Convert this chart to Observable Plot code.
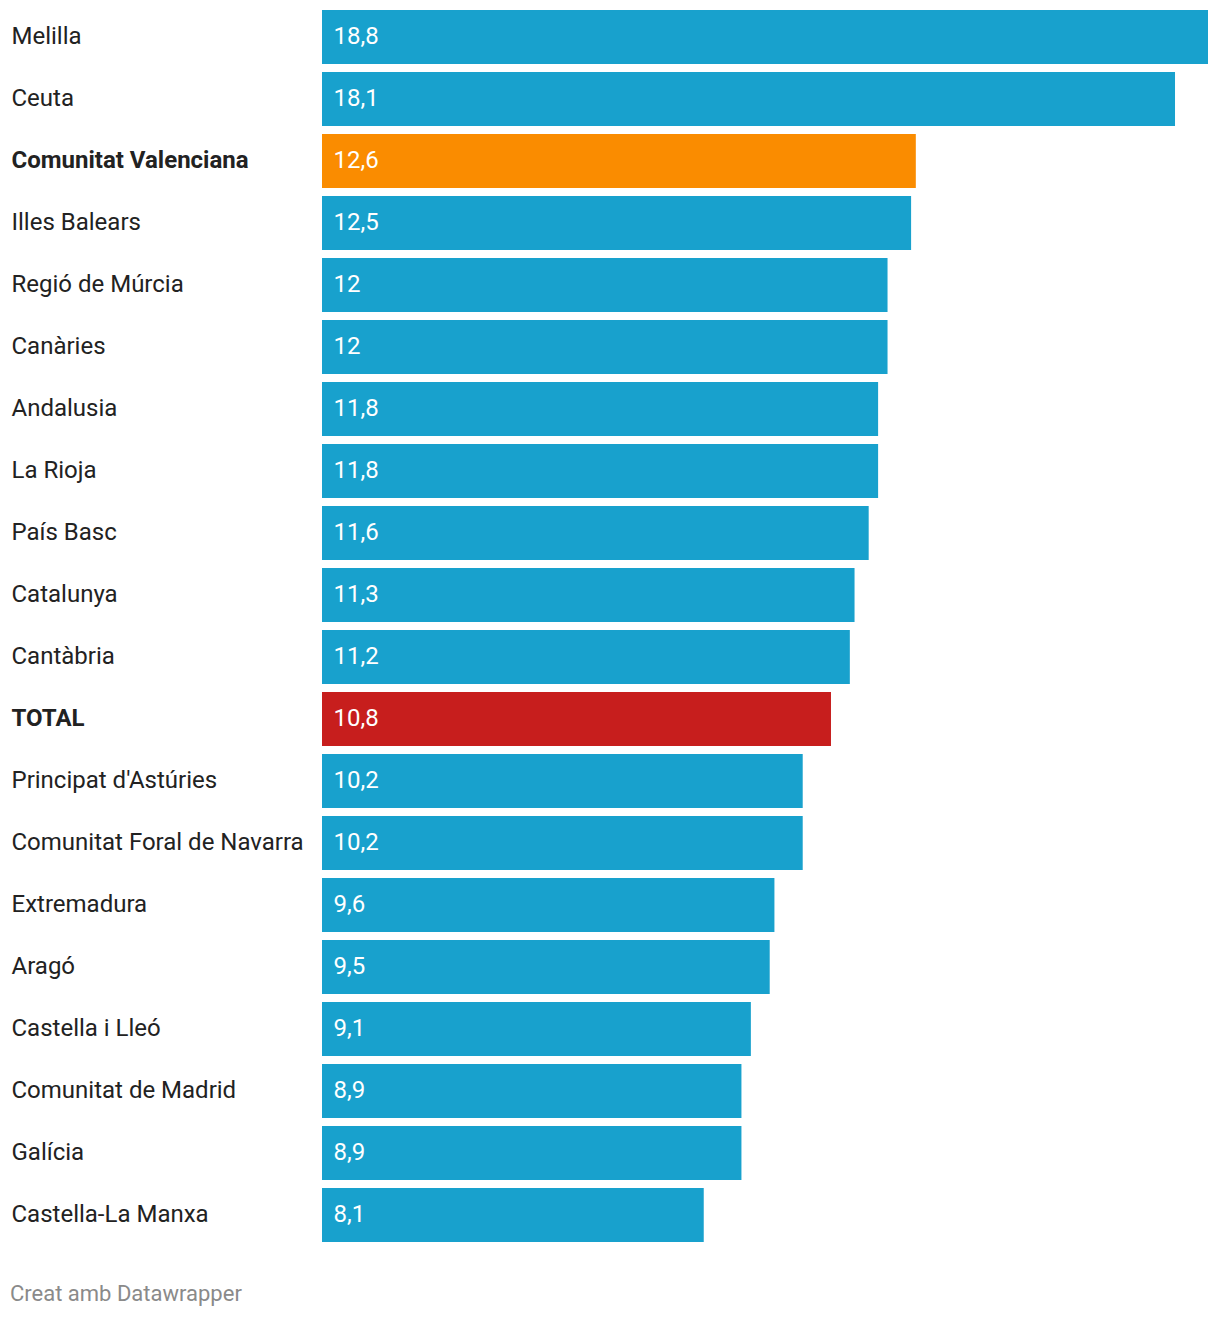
<!DOCTYPE html>
<html>
<head>
<meta charset="utf-8">
<script src="https://cdn.jsdelivr.net/npm/d3@7"></script>
<script src="https://cdn.jsdelivr.net/npm/@observablehq/plot@0.6"></script>
<style>
  html, body { margin: 0; padding: 0; background: #fff; }
  body { width: 1220px; font-family: Roboto, sans-serif; }
  #chart svg { display: block; }
  #footer { font-family: Roboto, sans-serif; font-size: 22px; line-height: 26px; color: #8a8a8a; margin: 31px 0 0 10px; }
</style>
</head>
<body>
<div id="chart"></div>
<div id="footer">Creat amb Datawrapper</div>
<script>
const regions = ["Melilla","Ceuta","Comunitat Valenciana","Illes Balears","Regió de Múrcia","Canàries","Andalusia","La Rioja","País Basc","Catalunya","Cantàbria","TOTAL","Principat d'Astúries","Comunitat Foral de Navarra","Extremadura","Aragó","Castella i Lleó","Comunitat de Madrid","Galícia","Castella-La Manxa"];
const values = [18.8,18.1,12.6,12.5,12,12,11.8,11.8,11.6,11.3,11.2,10.8,10.2,10.2,9.6,9.5,9.1,8.9,8.9,8.1];
const highlighted = ["Comunitat Valenciana","TOTAL"];
const colorKeys = ["base","Comunitat Valenciana","TOTAL"];
const colorValues = ["#18a1cd","#fa8c00","#c71e1d"];

const data = regions.map((r, i) => ({
  region: r,
  value: values[i],
  key: highlighted.includes(r) ? r : "base",
  bold: highlighted.includes(r)
}));
const fmt = v => String(v).replace(".", ",");

const chart = Plot.plot({
  width: 1220,
  height: 1250,
  marginLeft: 322,
  marginRight: 12,
  marginTop: 6,
  marginBottom: 4,
  style: { fontFamily: "Roboto, sans-serif", fontSize: "24px", background: "#fff" },
  x: { domain: [0, 18.8], axis: null },
  y: { domain: regions, axis: null, paddingInner: 8/62, paddingOuter: 4/62 },
  color: { domain: colorKeys, range: colorValues },
  marks: [
    Plot.barX(data, { y: "region", x: "value", fill: "key" }),
    Plot.text(data, { y: "region", x: 0, text: d => fmt(d.value), textAnchor: "start", dx: 11, dy: -1, fill: "#fff", fontSize: 24 }),
    Plot.text(data.filter(d => !d.bold), { y: "region", text: "region", frameAnchor: "left", dx: -311, dy: -1, textAnchor: "start", fill: "#222", fontSize: 24 }),
    Plot.text(data.filter(d => d.bold), { y: "region", text: "region", frameAnchor: "left", dx: -311, dy: -1, textAnchor: "start", fill: "#222", fontSize: 24, fontWeight: "bold" })
  ]
});
document.getElementById("chart").appendChild(chart);
</script>
</body>
</html>
